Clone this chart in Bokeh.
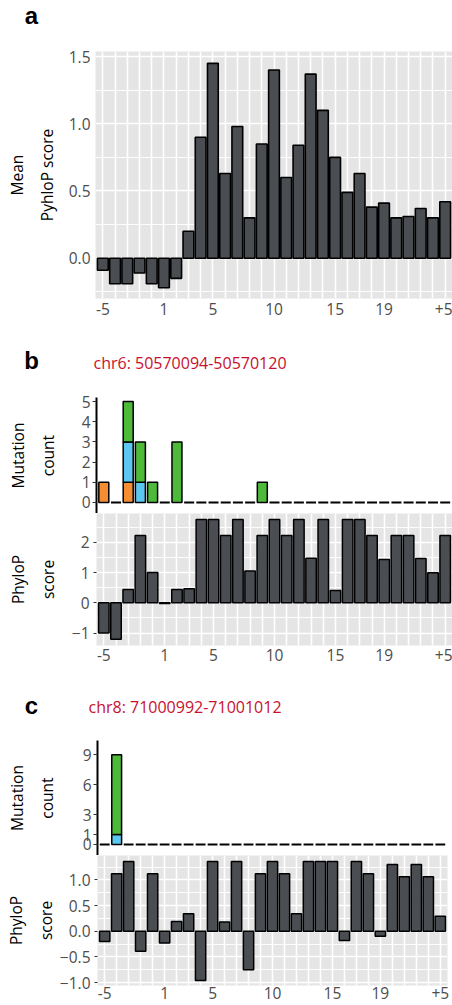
from bokeh.plotting import figure
from bokeh.models import Range1d, FixedTicker, Label
from bokeh.layouts import column
from bokeh.embed import file_html
from bokeh.resources import INLINE

# ---------------- data ----------------
positions = list(range(29))
tick_positions = [0, 5, 9, 14, 19, 23, 28]
tick_labels = ["-5", "1", "5", "10", "15", "19", "+5"]

mean_phylop_a = [-0.09, -0.19, -0.19, -0.11, -0.19, -0.22, -0.15, 0.20, 0.90, 1.45,
                 0.63, 0.98, 0.30, 0.85, 1.40, 0.60, 0.84, 1.37, 1.10, 0.75,
                 0.49, 0.63, 0.38, 0.41, 0.30, 0.31, 0.37, 0.30, 0.42]

title_b = "chr6: 50570094-50570120"
phylop_b = [-1.00, -1.20, 0.44, 2.22, 1.00, -0.02, 0.44, 0.46, 2.75, 2.75,
            2.22, 2.75, 1.05, 2.22, 2.75, 2.22, 2.75, 1.47, 2.75, 0.41,
            2.75, 2.75, 2.22, 1.43, 2.22, 2.22, 1.46, 0.99, 2.22]
mut_orange_b = [1, 0, 1, 0, 0, 0, 0, 0, 0, 0, 0, 0, 0, 0, 0, 0, 0, 0, 0, 0, 0, 0, 0, 0, 0, 0, 0, 0, 0]
mut_blue_b   = [0, 0, 2, 1, 0, 0, 0, 0, 0, 0, 0, 0, 0, 0, 0, 0, 0, 0, 0, 0, 0, 0, 0, 0, 0, 0, 0, 0, 0]
mut_green_b  = [0, 0, 2, 2, 1, 0, 3, 0, 0, 0, 0, 0, 0, 1, 0, 0, 0, 0, 0, 0, 0, 0, 0, 0, 0, 0, 0, 0, 0]

title_c = "chr8: 71000992-71001012"
phylop_c = [-0.20, 1.12, 1.36, -0.39, 1.12, -0.23, 0.19, 0.34, -0.96, 1.36,
            0.18, 1.36, -0.75, 1.12, 1.36, 1.12, 0.34, 1.36, 1.36, 1.36,
            -0.18, 1.36, 1.12, -0.10, 1.30, 1.06, 1.30, 1.06, 0.29]
mut_orange_c = [0] * 29
mut_blue_c   = [0, 1, 0, 0, 0, 0, 0, 0, 0, 0, 0, 0, 0, 0, 0, 0, 0, 0, 0, 0, 0, 0, 0, 0, 0, 0, 0, 0, 0]
mut_green_c  = [0, 8, 0, 0, 0, 0, 0, 0, 0, 0, 0, 0, 0, 0, 0, 0, 0, 0, 0, 0, 0, 0, 0, 0, 0, 0, 0, 0, 0]

yticks_a = [0, 0.5, 1.0, 1.5]
ylabels_a = ["0.0", "0.5", "1.0", "1.5"]
yminor_a = [-0.25, 0.25, 0.75, 1.25]
yticks_b = [-1, 0, 1, 2]
ylabels_b = ["\u22121", "0", "1", "2"]
yminor_b = [-0.5, 0.5, 1.5, 2.5]
yticks_c = [-1.0, -0.5, 0.0, 0.5, 1.0]
ylabels_c = ["\u22121.0", "\u22120.5", "0.0", "0.5", "1.0"]
yminor_c = [-0.75, -0.25, 0.25, 0.75, 1.25]
mut_ticks_b = [0, 1, 2, 3, 4, 5]
mut_ticks_c = [0, 1, 3, 6, 9]

ytitle_a = "Mean\nPyhloP score"
ytitle_mut = "Mutation\ncount"
ytitle_phy = "PhyloP\nscore"

# ---------------- style ----------------
FONT = "Open Sans"
FS = "15.5px"
TICK_COLOR = "#4D4D4D"
BAR_FILL = "#4A4D51"
BG = "#E5E5E5"
ORANGE = "#F58D33"
BLUE = "#5CC8F2"
GREEN = "#4DBA3A"
RED = "#C8102E"
W = 452
XR = (-0.6, 28.6)


def base_fig(h, bt, bb, bl, br, yr, bg, **kw):
    p = figure(width=W, height=h, x_range=Range1d(*XR), y_range=Range1d(*yr),
               toolbar_location=None, output_backend="svg",
               min_border_top=bt, min_border_bottom=bb, min_border_left=bl, min_border_right=br,
               background_fill_color=bg, border_fill_color="white", outline_line_color=None,
               **kw)
    p.frame_align = False
    return p


def style_yaxis(ax, title, label_standoff):
    ax.axis_label = title
    ax.axis_label_text_font = FONT
    ax.axis_label_text_font_size = FS
    ax.axis_label_text_font_style = "normal"
    ax.axis_label_text_color = "black"
    ax.axis_label_text_line_height = 1.35
    ax.axis_label_standoff = label_standoff
    ax.minor_tick_line_color = None
    ax.major_tick_in = 0
    ax.major_label_text_font = FONT
    ax.major_label_text_font_size = FS
    ax.major_label_text_color = TICK_COLOR


def header(h, items):
    p = figure(width=W, height=h, x_range=Range1d(0, W), y_range=Range1d(h, 0),
               x_axis_type=None, y_axis_type=None, toolbar_location=None,
               output_backend="svg", min_border=0, min_border_left=0, min_border_right=0,
               min_border_top=0, min_border_bottom=0, outline_line_color=None,
               background_fill_color="white", border_fill_color="white")
    p.frame_align = False
    for text, xp, yp, font, size, style, color, align in items:
        p.add_layout(Label(x=xp, y=yp, text=text, text_align=align, text_baseline="middle",
                           text_font=font, text_font_size=size, text_font_style=style,
                           text_color=color))
    return p


def style_xaxis(xa, standoff):
    xa.ticker = FixedTicker(ticks=tick_positions)
    xa.major_label_overrides = {t: l for t, l in zip(tick_positions, tick_labels)}
    xa.axis_line_color = None
    xa.minor_tick_line_color = None
    xa.major_tick_line_color = None
    xa.major_tick_in = 0
    xa.major_tick_out = 0
    xa.major_label_standoff = standoff
    xa.major_label_text_font = FONT
    xa.major_label_text_font_size = FS
    xa.major_label_text_color = TICK_COLOR


def style_grid(p, ticks, minor):
    p.xgrid.ticker = FixedTicker(ticks=positions)
    p.xgrid.grid_line_color = "white"
    p.xgrid.grid_line_width = 1.6
    p.ygrid.ticker = FixedTicker(ticks=ticks, minor_ticks=minor)
    p.ygrid.grid_line_color = "white"
    p.ygrid.grid_line_width = 1.6
    p.ygrid.minor_grid_line_color = "white"
    p.ygrid.minor_grid_line_width = 0.9


def phylop_fig(h, bt, bb, bl, br, yr, ticks, labels, minor, values, standoff, title, tstand):
    p = base_fig(h, bt, bb, bl, br, yr, BG)
    p.vbar(x=positions, top=values, bottom=0, width=0.86, fill_color=BAR_FILL,
           line_color="black", line_width=1.5)
    style_grid(p, ticks, minor)
    style_xaxis(p.xaxis[0], standoff)
    ya = p.yaxis[0]
    ya.ticker = FixedTicker(ticks=ticks)
    ya.major_label_overrides = {t: l for t, l in zip(ticks, labels)}
    style_yaxis(ya, title, tstand)
    ya.axis_line_color = None
    ya.major_tick_out = 3
    ya.major_tick_line_color = "#333333"
    ya.major_label_standoff = 4
    return p


def mut_fig(h, bt, bl, br, yr, ticks, orange, blue, green, tstand):
    p = base_fig(h, bt, 0, bl, br, yr, "white", x_axis_type=None)
    p.ygrid.visible = False
    base = [0] * len(positions)
    for counts, color in ((orange, ORANGE), (blue, BLUE), (green, GREEN)):
        xs, bots, tops = [], [], []
        for i, c in enumerate(counts):
            if c > 0:
                xs.append(positions[i])
                bots.append(base[i])
                tops.append(base[i] + c)
            base[i] += c
        if xs:
            p.vbar(x=xs, bottom=bots, top=tops, width=0.82, fill_color=color,
                   line_color="black", line_width=1.5)
    zx = [positions[i] for i in range(len(positions)) if base[i] == 0]
    p.segment(x0=[x - 0.41 for x in zx], x1=[x + 0.41 for x in zx],
              y0=[0] * len(zx), y1=[0] * len(zx), line_color="black", line_width=2,
              line_cap="butt")
    ax = p.yaxis[0]
    ax.ticker = FixedTicker(ticks=ticks)
    style_yaxis(ax, ytitle_mut, tstand)
    ax.axis_line_color = "black"
    ax.axis_line_width = 2
    ax.major_tick_out = 4
    ax.major_tick_line_color = "#333333"
    ax.major_label_standoff = 2
    return p


# ---------------- panel a ----------------
hdr_a = header(40, [("a", 31, 15, "Liberation Sans", "24px", "bold", "black", "center")])

fig_a = base_fig(288, 11, 30, 95, 0, (-0.30, 1.538), BG)
fig_a.vbar(x=positions, top=mean_phylop_a, bottom=0, width=0.88, fill_color=BAR_FILL,
           line_color="black", line_width=1.6)
style_grid(fig_a, yticks_a, yminor_a)
style_xaxis(fig_a.xaxis[0], 4)
ya = fig_a.yaxis[0]
ya.ticker = FixedTicker(ticks=yticks_a)
ya.major_label_overrides = {t: l for t, l in zip(yticks_a, ylabels_a)}
style_yaxis(ya, ytitle_a, 8)
ya.axis_line_color = None
ya.major_tick_line_color = None
ya.major_tick_out = 0
ya.major_label_standoff = 5

# ---------------- panel b ----------------
hdr_b = header(62, [("b", 31, 32, "Liberation Sans", "24px", "bold", "black", "center"),
                    (title_b, 93, 34, FONT, "16px", "normal", RED, "left")])
mut_b = mut_fig(123, 7, 96, 0, (-0.545, 5.198), mut_ticks_b,
                mut_orange_b, mut_blue_b, mut_green_b, 20)
phy_b = phylop_fig(159, 0, 27, 96, 0, (-1.409, 2.947), yticks_b, ylabels_b, yminor_b,
                   phylop_b, 3, ytitle_phy, 10)

# ---------------- panel c ----------------
hdr_c = header(63, [("c", 31, 33, "Liberation Sans", "24px", "bold", "black", "center"),
                    (title_c, 88, 34, FONT, "16px", "normal", RED, "left")])
mut_c = mut_fig(120, 5, 97, 5, (-1.104, 10.435), mut_ticks_c,
                mut_orange_c, mut_blue_c, mut_green_c, 22)
phy_c = phylop_fig(150, 0, 20, 97, 5, (-1.058, 1.475), yticks_c, ylabels_c, yminor_c,
                   phylop_c, 1, ytitle_phy, 0)

layout = column(hdr_a, fig_a, hdr_b, mut_b, phy_b, hdr_c, mut_c, phy_c, spacing=0)

open("out.html", "w").write(file_html(layout, INLINE))
